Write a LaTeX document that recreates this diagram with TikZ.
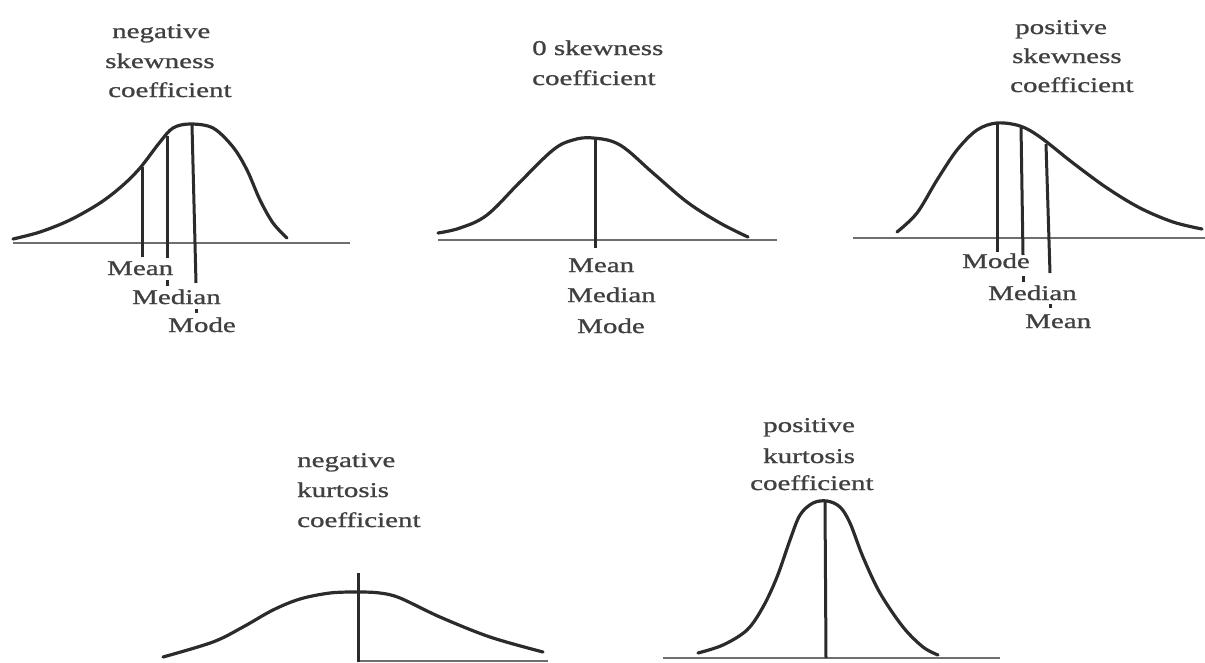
\documentclass[tikz,border=0pt]{standalone}
\usepackage{fontspec}
\setmainfont{Liberation Serif}[FakeStretch=1.38,FakeBold=1]
\usetikzlibrary{positioning}
\definecolor{ink}{HTML}{2B2B2B}
\definecolor{muted}{HTML}{404040}
\definecolor{axisline}{HTML}{6E6E6E}
\newcommand{\twenty}{\fontsize{21}{29}\selectfont}
\tikzset{
 every node/.append style={font=\twenty,text=muted,inner sep=0pt},
 head/.style={anchor=base west},
 tag/.style={anchor=base west},
 curve/.style={draw=ink,line width=3.2pt,line cap=round,line join=round},
 axis/.style={draw=axisline,line width=1.6pt},
 marker/.style={draw=ink,line width=3pt},
}

\begin{document}
\begin{tikzpicture}[x=1pt,y=-1pt]

\useasboundingbox (0,0) rectangle (1205,662);

% negative skewness
\foreach \x/\y/\t [count=\i] in {112/38/negative,105/68/skewness,108/97/coefficient}
  \node[head] (neghead\i) at (\x,\y) {\t};
\draw[axis] (13,243) -- (350,243);
\draw[curve] plot[smooth,tension=.55] coordinates {(13,239) (40,232) (70,220) (100,203) (122,186) (140,168) (160,142) (173,128) (190,124) (213,128) (233,147) (247,170) (260,200) (273,223) (287,238)};
\draw[marker] (142,167) -- (142,257);
\draw[marker] (167,136) -- (167,258);
\draw[marker] (192,125) -- (196,283);
\draw[marker] (167,280) -- (167,286);
\draw[marker] (196,309) -- (196,313);
\node[tag] (negmean) at (107,275) {Mean};
\node[tag] (negmedian) at (132,304) {Median};
\node[tag] (negmode) at (168,332) {Mode};

% zero skewness
\foreach \x/\y/\t [count=\i] in {532/55/0 skewness,532/85/coefficient}
  \node[head] (zerohead\i) at (\x,\y) {\t};
\draw[axis] (438,240) -- (777,240);
\draw[curve] plot[smooth,tension=.6] coordinates {(438,233) (460,228) (487,215) (520,182) (553,150) (573,140) (593,138) (620,145) (653,173) (687,202) (720,223) (748,237)};
\draw[marker] (595,138) -- (595,248);
\node[tag] (zeromean) at (568,272) {Mean};
\node[tag] (zeromedian) at (567,302) {Median};
\node[tag] (zeromode) at (577,333) {Mode};

% positive skewness
\foreach \x/\y/\t [count=\i] in {1015/34/positive,1012/63/skewness,1010/92/coefficient}
  \node[head] (poshead\i) at (\x,\y) {\t};
\draw[axis] (853,238) -- (1205,238);
\draw[curve] plot[smooth,tension=.55] coordinates {(897,232) (917,213) (937,180) (957,150) (977,130) (997,123) (1020,126) (1040,137) (1073,163) (1107,188) (1140,208) (1173,222) (1202,229)};
\draw[marker] (997,123) -- (997,252);
\draw[marker] (1021,126) -- (1023,255);
\draw[marker] (1046,144) -- (1050,273);
\draw[marker] (1023,276) -- (1023,282);
\draw[marker] (1050,304) -- (1050,308);
\node[tag] (posmode) at (962,268) {Mode};
\node[tag] (posmedian) at (988,300) {Median};
\node[tag] (posmean) at (1025,328) {Mean};

% negative kurtosis
\foreach \x/\y/\t [count=\i] in {297/467/negative,297/497/kurtosis,297/527/coefficient}
  \node[head] (flathead\i) at (\x,\y) {\t};
\draw[axis] (358,661) -- (548,661);
\draw[curve] plot[smooth,tension=.55] coordinates {(163,657) (213,642) (243,627) (273,610) (300,599) (330,593) (358,592) (380,593) (400,598) (440,617) (490,637) (543,652)};
\draw[marker] (358,573) -- (358,662);

% positive kurtosis
\foreach \x/\y/\t [count=\i] in {763/432/positive,763/463/kurtosis,750/490/coefficient}
  \node[head] (peakhead\i) at (\x,\y) {\t};
\draw[axis] (663,658) -- (1000,658);
\draw[curve] plot[smooth,tension=.55] coordinates {(698,653) (723,645) (747,630) (763,607) (777,577) (790,540) (800,515) (813,503) (827,501) (840,507) (850,523) (863,557) (880,593) (903,627) (923,647) (938,655)};
\draw[marker] (825,502) -- (826,658);

\end{tikzpicture}
\end{document}
